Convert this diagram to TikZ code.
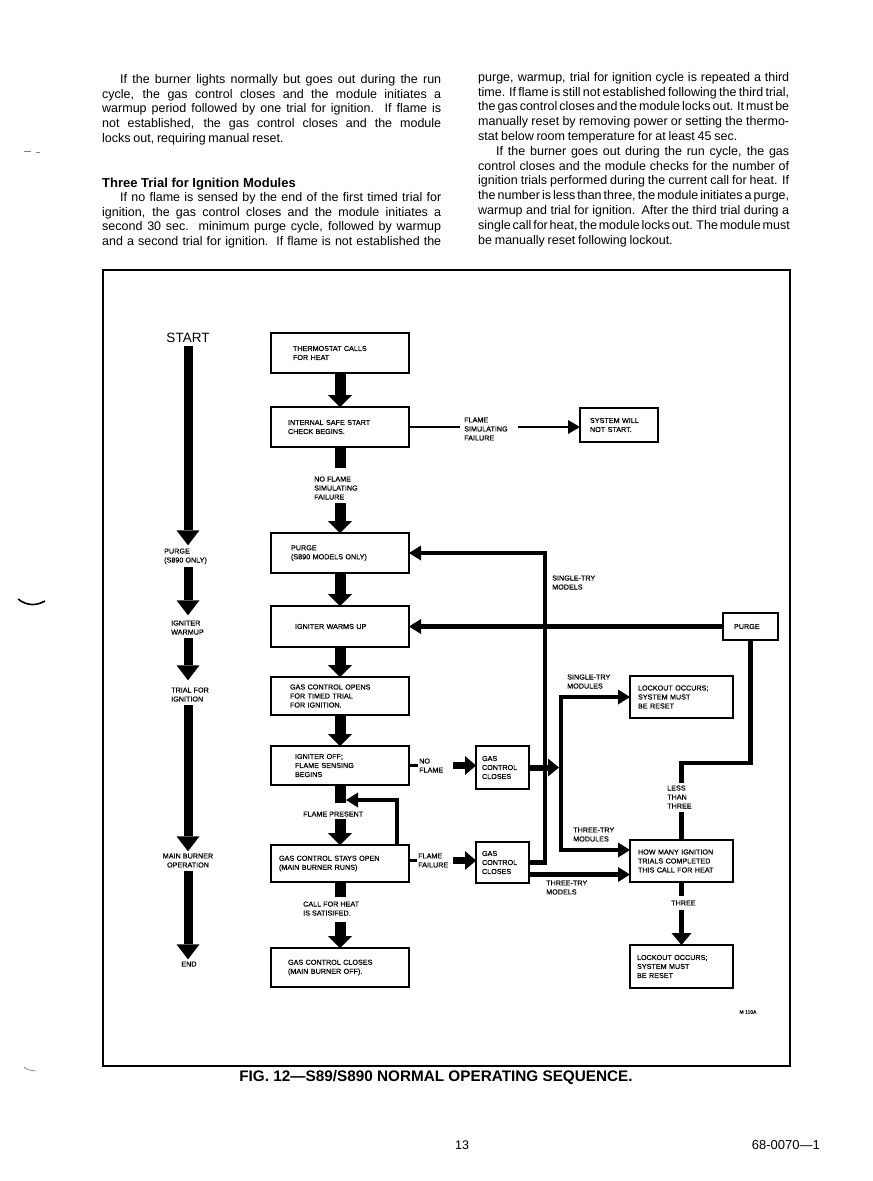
\documentclass[tikz,border=0pt]{standalone}
\usepackage{fontspec}
\setmainfont{Liberation Sans}
\newfontfamily\bodyfam{Liberation Sans}[WordSpace=0.8]
\newfontfamily\lblfam{Liberation Sans}[FakeBold=0.5]
\usetikzlibrary{arrows.meta}
\newcommand\lblfont{\lblfam\fontsize{7.2}{9}\selectfont}
\newcommand\bodyfont{\bodyfam\fontsize{12.5}{14.8}\selectfont}
\newcommand\jfull[2]{\makebox[#1][s]{#2}}
\begin{document}
\begin{tikzpicture}[x=1pt,y=-1pt,
  box/.style={draw, line width=2.2pt, rectangle, inner ysep=0pt, outer sep=0pt, align=left, font=\lblfont, anchor=north west},
  lbl/.style={inner sep=0pt, align=left, font=\lblfont, anchor=north west},
  bigarr/.style={line width=11pt, -{Triangle[width=24pt,length=12pt,line width=0pt]}},
  shaft/.style={line width=11pt},
  leftarr/.style={line width=9pt, -{Triangle[width=23pt,length=15pt,line width=0pt]}},
  loopline/.style={line width=4.5pt},
  looparr/.style={line width=4.5pt, -{Triangle[width=15pt,length=12pt,line width=0pt]}},
  medarr/.style={line width=7pt, -{Triangle[width=19pt,length=11pt,line width=0pt]}},
  gccarr/.style={line width=6pt, -{Triangle[width=18pt,length=11pt,line width=0pt]}},
  lockarr/.style={line width=5pt, -{Triangle[width=20pt,length=12pt,line width=0pt]}},
  thinline/.style={line width=2.5pt},
  stubline/.style={line width=3.5pt},
  thinarr/.style={line width=2.5pt, -{Triangle[width=14pt,length=12pt,line width=0pt]}},
  body/.style={inner sep=0pt, anchor=north west, align=left, font=\bodyfont}
]
\useasboundingbox (0,0) rectangle (873,1181);
\fill[white] (0,0) rectangle (873,1181);

% ---------------- body text ----------------
\node[body] (p1) at (102,74) {%
\jfull{339pt}{\hspace*{18pt}If the burner lights normally but goes out during the run}\\
\jfull{339pt}{cycle, the gas control closes and the module initiates a}\\
\jfull{339pt}{warmup period followed by one trial for ignition. If flame is}\\
\jfull{339pt}{not established, the gas control closes and the module}\\
locks out, requiring manual reset.};
\node[inner sep=0pt, anchor=north west, font=\bfseries\fontsize{13}{15}\selectfont] (head) at (102,178.3) {Three Trial for Ignition Modules};
\node[body] (p2) at (102,192) {%
\jfull{339pt}{\hspace*{18pt}If no flame is sensed by the end of the first timed trial for}\\
\jfull{339pt}{ignition, the gas control closes and the module initiates a}\\
\jfull{339pt}{second 30 sec. minimum purge cycle, followed by warmup}\\
\jfull{339pt}{and a second trial for ignition. If flame is not established the}};
\node[body] (p3) at (478,72) {%
\jfull{311pt}{purge, warmup, trial for ignition cycle is repeated a third}\\
\jfull{311pt}{time. If flame is still not established following the third trial,}\\
\jfull{311pt}{the gas control closes and the module locks out. It must be}\\
\jfull{311pt}{manually reset by removing power or setting the thermo-}\\
stat below room temperature for at least 45 sec.\\
\jfull{311pt}{\hspace*{18pt}If the burner goes out during the run cycle, the gas}\\
\jfull{311pt}{control closes and the module checks for the number of}\\
\jfull{311pt}{ignition trials performed during the current call for heat. If}\\
\jfull{311pt}{the number is less than three, the module initiates a purge,}\\
\jfull{311pt}{warmup and trial for ignition. After the third trial during a}\\
\jfull{311pt}{single call for heat, the module locks out. The module must}\\
be manually reset following lockout.};

% ---------------- frame ----------------
\draw[line width=1.4pt] (103,270) rectangle (790,1066);

% ---------------- left column ----------------
\node[font=\fontsize{13.5}{16}\selectfont, inner sep=0pt] (start) at (188,338) {START};
\node[lbl] (purgel) at (164,548.3) {PURGE\\(S890 ONLY)};
\node[lbl] (ignl) at (171,620.3) {IGNITER\\WARMUP};
\node[lbl] (triall) at (171,687.3) {TRIAL FOR\\IGNITION};
\node[lbl, anchor=north, align=center] (mainl) at (188,853.3) {MAIN BURNER\\OPERATION};
\node[lbl, anchor=center] (endl) at (189,964) {END};

\draw[leftarr, shorten <=3pt, shorten >=3pt] (start.south) -- (start.south |- purgel.north);
\draw[leftarr, shorten <=3pt, shorten >=5pt] (start.south |- purgel.south) -- (start.south |- ignl.north);
\draw[leftarr, shorten <=3pt, shorten >=7pt] (start.south |- ignl.south) -- (start.south |- triall.north);
\draw[leftarr, shorten <=3pt, shorten >=2pt] (start.south |- triall.south) -- (start.south |- mainl.north);
\draw[leftarr, shorten <=3pt, shorten >=2pt] (start.south |- mainl.south) -- (start.south |- endl.north);

% ---------------- main column ----------------
\node[box, minimum width=138pt, minimum height=40pt, inner xsep=22pt, text width=94pt] (thermo) at (271,333) {THERMOSTAT CALLS\\FOR HEAT};
\node[box, minimum width=138pt, minimum height=40pt, inner xsep=17pt, text width=104pt] (safe) at (271,407) {INTERNAL SAFE START\\CHECK BEGINS.};
\node[lbl] (nofl) at (314,476.3) {NO FLAME\\SIMULATING\\FAILURE};
\node[box, minimum width=138pt, minimum height=40pt, inner xsep=20pt, text width=98pt] (purge) at (271,533) {PURGE\\(S890 MODELS ONLY)};
\node[box, minimum width=138pt, minimum height=41pt, inner xsep=24pt, text width=90pt] (warm) at (271,606) {IGNITER WARMS UP};
\node[box, minimum width=138pt, minimum height=38pt, inner xsep=19pt, text width=100pt] (opens) at (271,677) {GAS CONTROL OPENS\\FOR TIMED TRIAL\\FOR IGNITION.};
\node[box, minimum width=138pt, minimum height=39pt, inner xsep=24pt, text width=90pt] (off) at (271,746) {IGNITER OFF;\\FLAME SENSING\\BEGINS};
\node[lbl] (fpres) at (303,811.3) {FLAME PRESENT};
\node[box, minimum width=138pt, minimum height=37pt, inner xsep=8pt, text width=122pt] (stays) at (271,845) {GAS CONTROL STAYS OPEN\\(MAIN BURNER RUNS)};
\node[lbl] (callh) at (303,901.3) {CALL FOR HEAT\\IS SATISIFED.};
\node[box, minimum width=138pt, minimum height=39pt, inner xsep=17pt, text width=104pt] (closed) at (271,948) {GAS CONTROL CLOSES\\(MAIN BURNER OFF).};

\draw[bigarr] (thermo.south) -- (safe.north);
\draw[shaft, shorten >=8pt] (safe.south) -- (safe.south |- nofl.north);
\draw[bigarr, shorten <=3pt] (safe.south |- nofl.south) -- (purge.north);
\draw[bigarr] (purge.south) -- (warm.north);
\draw[bigarr] (warm.south) -- (opens.north);
\draw[bigarr] (opens.south) -- (off.north);
\draw[shaft, shorten >=8pt] (off.south) -- (off.south |- fpres.north);
\draw[bigarr, shorten <=2pt] (off.south |- fpres.south) -- (stays.north);
\coordinate (fbc) at (397,800);
\coordinate (fbt) at (346,800);
\draw[looparr, line width=4pt] (stays.north -| fbc) -- (fbc) -- (fbt);
\draw[shaft, shorten >=4pt] (stays.south) -- (stays.south |- callh.north);
\draw[bigarr, shorten <=6pt] (stays.south |- callh.south) -- (closed.north);

% ---------------- right part ----------------
\node[lbl] (fsf) at (464,417.3) {FLAME\\SIMULATING\\FAILURE};
\node[box, minimum width=78pt, minimum height=34pt, inner xsep=10pt, text width=58pt] (nostart) at (580,408) {SYSTEM WILL\\NOT START.};
\node[lbl] (smodels) at (552,575.3) {SINGLE-TRY\\MODELS};
\node[box, minimum width=55pt, minimum height=27pt, inner xsep=11pt, text width=33pt] (purge2) at (723,613) {PURGE};
\node[lbl] (smodules) at (567,674.3) {SINGLE-TRY\\MODULES};
\node[box, minimum width=103pt, minimum height=42pt, inner xsep=8pt, text width=87pt] (lock1) at (630,676) {LOCKOUT OCCURS;\\SYSTEM MUST\\BE RESET};
\node[lbl] (nofl2) at (419,758.3) {NO\\FLAME};
\node[box, minimum width=53pt, minimum height=43pt, inner xsep=6pt, text width=41pt] (gcc1) at (476,746) {GAS\\CONTROL\\CLOSES};
\node[lbl] (less) at (667,785.3) {LESS\\THAN\\THREE};
\node[lbl] (ttmod) at (573,827.3) {THREE-TRY\\MODULES};
\node[box, minimum width=103pt, minimum height=42pt, inner xsep=8pt, text width=87pt] (howmany) at (630,840) {HOW MANY IGNITION\\TRIALS COMPLETED\\THIS CALL FOR HEAT};
\node[lbl] (ffail) at (418,853.3) {FLAME\\FAILURE};
\node[box, minimum width=53pt, minimum height=41pt, inner xsep=6pt, text width=41pt] (gcc2) at (476,842) {GAS\\CONTROL\\CLOSES};
\node[lbl] (ttmodels) at (546,880.3) {THREE-TRY\\MODELS};
\node[lbl] (three) at (671,900.3) {THREE};
\node[box, minimum width=103pt, minimum height=43pt, inner xsep=7pt, text width=89pt] (lock2) at (630,945) {LOCKOUT OCCURS;\\SYSTEM MUST\\BE RESET};
\node[font=\lblfam\fontsize{5}{6}\selectfont, inner sep=0pt] (m110) at (748,1012) {M 110A};

\draw[thinline, shorten >=4pt] (safe.east) -- (safe.east -| fsf.west);
\draw[thinarr, shorten <=10pt] (safe.east -| fsf.east) -- (safe.east -| nostart.west);

\draw[stubline, shorten >=1pt] (nofl2.west -| off.east) -- (nofl2.west);
\draw[medarr, shorten <=10pt] (nofl2.east) -- (nofl2.east -| gcc1.west);
\coordinate (jin) at (561,767.5);
\draw[gccarr, shorten >=2pt] (gcc1.east) -- (jin);
\draw[looparr] (jin) |- (lock1.west);
\draw[looparr] (jin) |- ([yshift=11pt]howmany.west);

\coordinate (otop) at (545,553);
\draw[looparr] (gcc2.east) -| (otop) -- (purge.east);
\draw[stubline, shorten >=1pt] (ffail.west -| stays.east) -- (ffail.west);
\draw[medarr, shorten <=5pt] (ffail.east) -- (ffail.east -| gcc2.west);
\draw[looparr] ([yshift=-12pt]gcc2.east) -- ([yshift=-12pt]gcc2.east -| howmany.west);

\draw[looparr] (purge2.west) -- (warm.east);
\coordinate (lcy) at (0,763);
\draw[loopline, shorten <=2pt] (howmany.north |- less.north) -- (howmany.north |- lcy) -| (purge2.south);
\draw[loopline, shorten >=3pt] (howmany.north) -- (howmany.north |- less.south);
\draw[loopline, shorten >=4pt] (howmany.south) -- (howmany.south |- three.north);
\draw[lockarr, shorten <=4pt] (howmany.south |- three.south) -- (lock2.north);

% ---------------- caption & footer ----------------
\node[font=\bfseries\fontsize{15.3}{18}\selectfont, inner sep=0pt] (cap) at (436,1077) {FIG. 12—S89/S890 NORMAL OPERATING SEQUENCE.};
\node[font=\fontsize{12.5}{14}\selectfont, inner sep=0pt] (pg) at (462,1145) {13};
\node[font=\fontsize{13}{14}\selectfont, inner sep=0pt, anchor=east] (docno) at (820,1145) {68-0070—1};

% ---------------- scan marks ----------------
\draw[gray, line width=0.6pt] (24,151) -- (31,151) (36,152) -- (40,152);
\draw[line width=1.6pt] (18,599) .. controls (27,606) and (36,606) .. (45,601);
\draw[gray, line width=0.7pt] (24,1067) .. controls (28,1070) .. (36,1071);
\end{tikzpicture}
\end{document}
